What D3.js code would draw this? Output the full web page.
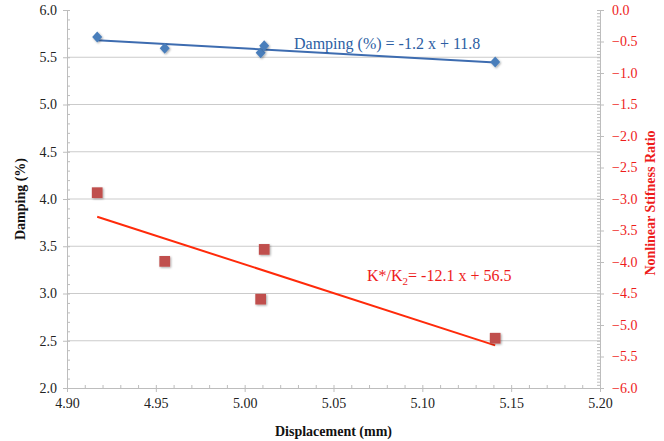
<!DOCTYPE html>
<html>

<head>
    <meta charset="utf-8">
    <title>Damping and stiffness vs displacement</title>
    <style>
        body { margin: 0; background: #fff; }
        svg text { font-family: "Liberation Serif", "Times New Roman", serif; }
    </style>
</head>

<body>
    <script src="https://d3js.org/d3.v7.min.js"></script>
    <script>
    // data
    const displacement = [4.917, 4.955, 5.009, 5.011, 5.141];
    const damping = [5.714, 5.595, 5.548, 5.622, 5.450];
    const stiffness = [-2.90, -3.99, -4.59, -3.80, -5.21];

    const xTicks = [4.90, 4.95, 5.00, 5.05, 5.10, 5.15, 5.20];
    const leftTicks = [2.0, 2.5, 3.0, 3.5, 4.0, 4.5, 5.0, 5.5, 6.0];
    const rightTicks = [-6.0, -5.5, -5.0, -4.5, -4.0, -3.5, -3.0, -2.5, -2.0, -1.5, -1.0, -0.5, 0.0];

    const dampingEq = "Damping (%) = -1.2 x + 11.8";
    const stiffEq = ["K*/K", "2", "= -12.1 x + 56.5"];

    const W = 664, H = 441;
    const plotL = 67, plotR = 600, plotT = 10, plotB = 388;
    const serif = "Liberation Serif, Times New Roman, serif";
    const blue = "#4a7ebb", red = "#c0504d", axisRed = "#ee1c1c";

    const svg = d3.select("body").append("svg")
        .attr("width", W).attr("height", H)
        .attr("font-family", serif);

    const defs = svg.append("defs");
    defs.append("filter").attr("id", "shadow")
        .attr("x", "-50%").attr("y", "-50%").attr("width", "200%").attr("height", "200%")
        .append("feDropShadow")
        .attr("dx", 1).attr("dy", 1).attr("stdDeviation", 1)
        .attr("flood-color", "#000").attr("flood-opacity", 0.35);

    const x = d3.scaleLinear().domain([4.9, 5.2]).range([plotL, plotR]);
    const yL = d3.scaleLinear().domain([2, 6]).range([plotB, plotT]);
    const yR = d3.scaleLinear().domain([-6, 0]).range([plotB, plotT]);

    // gridlines
    svg.append("g")
        .selectAll("line")
        .data(leftTicks.filter(d => d > 2 && d < 6))
        .enter().append("line")
        .attr("x1", plotL).attr("x2", plotR)
        .attr("y1", d => yL(d)).attr("y2", d => yL(d))
        .attr("stroke", "#cbcbcb").attr("stroke-width", 1.2);

    function styleAxis(g, color) {
        g.attr("font-family", serif).attr("font-size", 14);
        g.select(".domain").attr("stroke", "#bdbdbd");
        g.selectAll(".tick line").attr("stroke", "#bdbdbd");
        g.selectAll(".tick text")
            .attr("fill", color)
            .attr("font-family", serif);
    }

    // left axis - minor ticks inside, major outside
    svg.append("g")
        .attr("transform", `translate(${plotL},0)`)
        .call(d3.axisLeft(yL).tickValues(d3.range(20, 61).map(d => d / 10)).tickSize(-3).tickFormat(""))
        .call(g => styleAxis(g, "#222"));
    svg.append("g")
        .attr("transform", `translate(${plotL},0)`)
        .call(d3.axisLeft(yL).tickValues(leftTicks).tickSize(4).tickPadding(6).tickFormat(d3.format(".1f")))
        .call(g => styleAxis(g, "#222"));

    // right axis
    svg.append("g")
        .attr("transform", `translate(${plotR},0)`)
        .call(d3.axisRight(yR).tickValues(d3.range(-120, 1).map(d => d / 20)).tickSize(-3).tickFormat(""))
        .call(g => styleAxis(g, axisRed));
    svg.append("g")
        .attr("transform", `translate(${plotR},0)`)
        .call(d3.axisRight(yR).tickValues(rightTicks).tickSize(4).tickPadding(8).tickFormat(d3.format(".1f")))
        .call(g => styleAxis(g, axisRed));

    // bottom axis
    svg.append("g")
        .attr("transform", `translate(0,${plotB})`)
        .call(d3.axisBottom(x).tickValues(d3.range(490, 521).map(d => d / 100)).tickSize(-3).tickFormat(""))
        .call(g => styleAxis(g, "#222"));
    svg.append("g")
        .attr("transform", `translate(0,${plotB})`)
        .call(d3.axisBottom(x).tickValues(xTicks).tickSize(4).tickPadding(6).tickFormat(d3.format(".2f")))
        .call(g => styleAxis(g, "#222"));

    // axis titles
    svg.append("text")
        .attr("transform", `translate(25,${(plotT + plotB) / 2}) rotate(-90)`)
        .attr("text-anchor", "middle")
        .attr("font-size", 14).attr("font-weight", "bold")
        .attr("fill", "#111")
        .text("Damping (%)");

    svg.append("text")
        .attr("transform", `translate(655,${(plotT + plotB) / 2 + 4}) rotate(-90)`)
        .attr("text-anchor", "middle")
        .attr("font-size", 14).attr("font-weight", "bold")
        .attr("fill", axisRed)
        .text("Nonlinear Stifness Ratio");

    svg.append("text")
        .attr("x", (plotL + plotR) / 2).attr("y", 436)
        .attr("text-anchor", "middle")
        .attr("font-size", 14).attr("font-weight", "bold")
        .attr("fill", "#111")
        .text("Displacement (mm)");

    // least squares trend line
    function fit(xs, ys) {
        const mx = d3.mean(xs), my = d3.mean(ys);
        const sxy = d3.sum(xs, (v, i) => (v - mx) * (ys[i] - my));
        const sxx = d3.sum(xs, v => (v - mx) * (v - mx));
        const b = sxy / sxx;
        const ext = d3.extent(xs);
        return ext.map(v => [v, my + b * (v - mx)]);
    }

    const line = (ys) => d3.line().x(d => x(d[0])).y(d => ys(d[1]));

    svg.append("path")
        .datum(fit(displacement, damping))
        .attr("fill", "none").attr("stroke", "#3d6cb0").attr("stroke-width", 2)
        .attr("d", line(yL));

    svg.append("path")
        .datum(fit(displacement, stiffness))
        .attr("fill", "none").attr("stroke", "#ff2a0a").attr("stroke-width", 2)
        .attr("d", line(yR));

    // markers
    const diamond = {
        draw(ctx, size) {
            const r = Math.sqrt(size) / 2;
            ctx.moveTo(0, -r * 1.1);
            ctx.lineTo(r, 0);
            ctx.lineTo(0, r * 1.1);
            ctx.lineTo(-r, 0);
            ctx.closePath();
        }
    };

    svg.append("g").selectAll("path")
        .data(displacement)
        .enter().append("path")
        .attr("d", d3.symbol().type(diamond).size(100))
        .attr("transform", (d, i) => `translate(${x(d)},${yL(damping[i])})`)
        .attr("fill", blue)
        .attr("filter", "url(#shadow)");

    svg.append("g").selectAll("path")
        .data(displacement)
        .enter().append("path")
        .attr("d", d3.symbol().type(d3.symbolSquare).size(115))
        .attr("transform", (d, i) => `translate(${x(d)},${yR(stiffness[i])})`)
        .attr("fill", red)
        .attr("filter", "url(#shadow)");

    // equation labels
    svg.append("text")
        .attr("x", 294).attr("y", 49)
        .attr("font-size", 16)
        .attr("fill", "#2c5ea3")
        .text(dampingEq);

    const eq = svg.append("text")
        .attr("x", 367).attr("y", 281)
        .attr("font-size", 16)
        .attr("fill", axisRed);
    eq.append("tspan").text(stiffEq[0]);
    eq.append("tspan").attr("dy", 4).attr("font-size", 11).text(stiffEq[1]);
    eq.append("tspan").attr("dy", -4).text(stiffEq[2]);
    </script>
</body>

</html>
